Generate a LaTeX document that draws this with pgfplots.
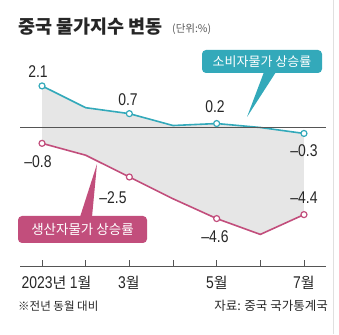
\documentclass[border=0pt]{standalone}
\usepackage{fontspec}
\usepackage{pgfplots}
\pgfplotsset{compat=1.18}
\usepgfplotslibrary{fillbetween}
\setmainfont{Noto Sans CJK KR}
\newfontfamily\kr{Noto Sans CJK KR}
\newfontfamily\num[FakeStretch=0.82]{Liberation Sans}
\definecolor{cpi}{HTML}{33A9BA}
\definecolor{ppi}{HTML}{C24E7C}
\definecolor{fillg}{HTML}{E6E6E6}
\definecolor{axg}{HTML}{555555}
\begin{document}
\begin{tikzpicture}[x=1pt,y=1pt]
\draw[black!12, line width=0.8pt] (333,0) -- (333,334);
\begin{axis}[
  at={(20.2pt,67.9pt)}, anchor=south west, scale only axis,
  width=305.6pt, height=198pt,
  xmin=0.5, xmax=7.5, ymin=-7, ymax=3,
  axis x line=bottom, axis y line=none,
  axis line style={-, axg, line width=1pt},
  xtick={1,2,3,4,5,6,7}, xticklabels={},
  ytick=\empty,
  tick align=inside, major tick length=6pt,
  tick style={axg, line width=0.8pt},
  clip=false,
]
\addplot[name path=cpi, cpi, line width=1.6pt, mark=*, mark size=3pt,
  mark options={fill=white, draw=cpi, line width=1.2pt}, mark indices={1,3,5,7}]
  coordinates {(1,2.1)(2,1.0)(3,0.7)(4,0.1)(5,0.2)(6,0.0)(7,-0.3)};
\addplot[name path=ppi, ppi, line width=1.6pt, mark=*, mark size=3pt,
  mark options={fill=white, draw=ppi, line width=1.2pt}, mark indices={1,3,5,7}]
  coordinates {(1,-0.8)(2,-1.4)(3,-2.5)(4,-3.6)(5,-4.6)(6,-5.4)(7,-4.4)};
\addplot[fillg] fill between[of=cpi and ppi];
\draw[axg, line width=0.8pt] (axis cs:0.5,0) -- (axis cs:7.5,0);
\end{axis}
% title
\node[anchor=west, inner sep=0, font=\kr\bfseries\fontsize{18.5}{18.5}\selectfont, text=black!85] at (18,334-26.5) {중국 물가지수 변동};
\node[anchor=west, inner sep=0, font=\kr\fontsize{10.5}{10.5}\selectfont, text=black!65] at (172,334-29) {(단위:\%)};
% value labels
\begin{scope}[every node/.style={inner sep=0, font=\num\fontsize{17}{17}\selectfont, text=black!85}]
\node at (38,334-72) {2.1};
\node at (128,334-100) {0.7};
\node at (215,334-107) {0.2};
\node at (304,334-151) {–0.3};
\node at (38,334-162) {–0.8};
\node at (113,334-198) {–2.5};
\node at (304,334-198) {–4.4};
\node at (215,334-237) {–4.6};
\end{scope}
% label boxes
\fill[cpi] (264,334-72) -- (276,334-72) -- (247,334-117) -- cycle;
\node[fill=cpi, rounded corners=4pt, text=white, inner sep=0, minimum width=120pt, minimum height=23pt,
  font=\kr\fontsize{13}{13}\selectfont] at (262,334-61.5) {소비자물가 상승률};
\fill[ppi] (80,334-217) -- (92,334-217) -- (97,334-164) -- cycle;
\node[fill=ppi, rounded corners=4pt, text=white, inner sep=0, minimum width=129pt, minimum height=27pt,
  font=\kr\fontsize{13.5}{13.5}\selectfont] at (82.5,334-229.5) {생산자물가 상승률};
% tick labels
\begin{scope}[every node/.style={inner sep=0, text=black!85}]
\node at (56.5,334-283) {{\num\fontsize{17}{17}\selectfont 2023}{\kr\fontsize{15}{15}\selectfont 년 }{\num\fontsize{17}{17}\selectfont 1}{\kr\fontsize{15}{15}\selectfont 월}};
\node at (129,334-283) {{\num\fontsize{17}{17}\selectfont 3}{\kr\fontsize{15}{15}\selectfont 월}};
\node at (217,334-283) {{\num\fontsize{17}{17}\selectfont 5}{\kr\fontsize{15}{15}\selectfont 월}};
\node at (304,334-283) {{\num\fontsize{17}{17}\selectfont 7}{\kr\fontsize{15}{15}\selectfont 월}};
\node[anchor=west, font=\kr\fontsize{11.5}{11.5}\selectfont] at (18,334-306) {※전년 동월 대비};
\node[anchor=east, font=\kr\fontsize{12.5}{12.5}\selectfont] at (328,334-306) {자료: 중국 국가통계국};
\end{scope}
\pgfresetboundingbox
\useasboundingbox (0,0) rectangle (339,334);
\end{tikzpicture}
\end{document}
